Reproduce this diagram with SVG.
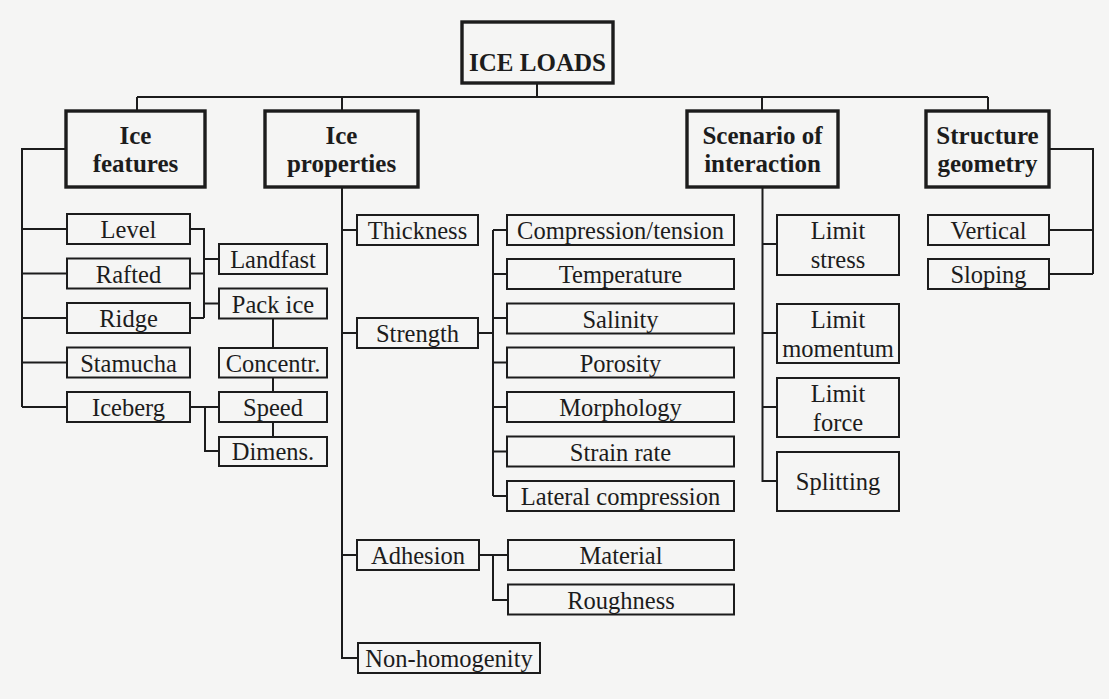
<svg xmlns="http://www.w3.org/2000/svg" width="1109" height="699" viewBox="0 0 1109 699">
<style>
.bg{fill:#f5f5f4}
.h rect{fill:#f5f5f4;stroke:#1c1c1c;stroke-width:3.4}
.n rect{fill:#f5f5f4;stroke:#1c1c1c;stroke-width:2}
.h text{font-family:"Liberation Serif",serif;font-weight:bold;font-size:25px;fill:#1c1c1c;text-anchor:middle}
.n text{font-family:"Liberation Serif",serif;font-size:24.5px;fill:#1c1c1c;text-anchor:middle}
#connectors path{fill:none;stroke:#1c1c1c;stroke-width:2}
</style>
<rect class="bg" x="0" y="0" width="1109" height="699"/>
<g id="connectors">
<path d="M537 83V97M137 97H988M137 97V111M342 97V111M762 97V111M988 97V111"/>
<path d="M66 149H22V407M22 229H67M22 273.5H67M22 318H67M22 362.5H67M22 407H67"/>
<path d="M190 229H204V318M190 273.5H204M190 318H204M204 259H219M204 303.5H219"/>
<path d="M273 318V348M273 377V392M273 422V437"/>
<path d="M190 407H219M205 407V451H219"/>
<path d="M342 187V658H358M342 230H357M342 333H357M342 555H357"/>
<path d="M478 333H493M493 230V496M493 230H507M493 274H507M493 318H507M493 362.5H507M493 407H507M493 451.5H507M493 496H507"/>
<path d="M479 555H508M493 555V600H508"/>
<path d="M762.5 187V481H777M762.5 244H777M762.5 333H777M762.5 407H777"/>
<path d="M1049 149H1093V274M1049 230H1093M1049 274H1093"/>
</g>
<g id="ice-loads" class="h"><rect x="462" y="22" width="151" height="61"/><text x="537.5" y="71">ICE LOADS</text></g>
<g id="ice-features" class="h"><rect x="66" y="111" width="139" height="76"/><text x="135.5" y="144">Ice</text><text x="135.5" y="172">features</text></g>
<g id="ice-properties" class="h"><rect x="265" y="111" width="153" height="76"/><text x="341.5" y="144">Ice</text><text x="341.5" y="172">properties</text></g>
<g id="scenario" class="h"><rect x="687" y="111" width="151" height="76"/><text x="762.5" y="144">Scenario of</text><text x="762.5" y="172">interaction</text></g>
<g id="structure" class="h"><rect x="926" y="111" width="123" height="76"/><text x="987.5" y="144">Structure</text><text x="987.5" y="172">geometry</text></g>

<g id="level" class="n"><rect x="67" y="214" width="123" height="30"/><text x="128.5" y="238">Level</text></g>
<g id="rafted" class="n"><rect x="67" y="258.5" width="123" height="30"/><text x="128.5" y="282.5">Rafted</text></g>
<g id="ridge" class="n"><rect x="67" y="303" width="123" height="30"/><text x="128.5" y="327">Ridge</text></g>
<g id="stamucha" class="n"><rect x="67" y="347.5" width="123" height="30"/><text x="128.5" y="371.5">Stamucha</text></g>
<g id="iceberg" class="n"><rect x="67" y="392" width="123" height="30"/><text x="128.5" y="416">Iceberg</text></g>
<g id="landfast" class="n"><rect x="219" y="244" width="108" height="30"/><text x="273" y="268">Landfast</text></g>
<g id="pack-ice" class="n"><rect x="219" y="288.5" width="108" height="30"/><text x="273" y="312.5">Pack ice</text></g>
<g id="concentr" class="n"><rect x="219" y="348" width="108" height="29.5"/><text x="273" y="371.5">Concentr.</text></g>
<g id="speed" class="n"><rect x="219" y="392" width="108" height="30"/><text x="273" y="416">Speed</text></g>
<g id="dimens" class="n"><rect x="219" y="437" width="108" height="29"/><text x="273" y="460">Dimens.</text></g>

<g id="thickness" class="n"><rect x="357" y="215" width="121" height="30"/><text x="417.5" y="239">Thickness</text></g>
<g id="strength" class="n"><rect x="357" y="318" width="121" height="30"/><text x="417.5" y="342">Strength</text></g>
<g id="adhesion" class="n"><rect x="357" y="540" width="122" height="30"/><text x="418" y="564">Adhesion</text></g>
<g id="non-homogenity" class="n"><rect x="358" y="643" width="182" height="30"/><text x="449" y="667">Non-homogenity</text></g>

<g id="compression-tension" class="n"><rect x="507" y="215" width="227" height="30"/><text x="620.5" y="239">Compression/tension</text></g>
<g id="temperature" class="n"><rect x="507" y="259" width="227" height="30"/><text x="620.5" y="283">Temperature</text></g>
<g id="salinity" class="n"><rect x="507" y="303.5" width="227" height="30"/><text x="620.5" y="327.5">Salinity</text></g>
<g id="porosity" class="n"><rect x="507" y="347.5" width="227" height="30"/><text x="620.5" y="371.5">Porosity</text></g>
<g id="morphology" class="n"><rect x="507" y="392" width="227" height="30"/><text x="620.5" y="416">Morphology</text></g>
<g id="strain-rate" class="n"><rect x="507" y="436.5" width="227" height="30"/><text x="620.5" y="460.5">Strain rate</text></g>
<g id="lateral-compression" class="n"><rect x="507" y="481" width="227" height="30"/><text x="620.5" y="505">Lateral compression</text></g>
<g id="material" class="n"><rect x="508" y="540" width="226" height="30"/><text x="621" y="564">Material</text></g>
<g id="roughness" class="n"><rect x="508" y="584.5" width="226" height="30"/><text x="621" y="608.5">Roughness</text></g>

<g id="limit-stress" class="n"><rect x="777" y="215" width="122" height="60"/><text x="838" y="239">Limit</text><text x="838" y="268">stress</text></g>
<g id="limit-momentum" class="n"><rect x="777" y="304" width="122" height="59"/><text x="838" y="328">Limit</text><text x="838" y="357">momentum</text></g>
<g id="limit-force" class="n"><rect x="777" y="378" width="122" height="59"/><text x="838" y="402">Limit</text><text x="838" y="431">force</text></g>
<g id="splitting" class="n"><rect x="777" y="452" width="122" height="59"/><text x="838" y="490">Splitting</text></g>

<g id="vertical" class="n"><rect x="928" y="215" width="121" height="30"/><text x="988.5" y="239">Vertical</text></g>
<g id="sloping" class="n"><rect x="928" y="259" width="121" height="30"/><text x="988.5" y="283">Sloping</text></g>
</svg>
